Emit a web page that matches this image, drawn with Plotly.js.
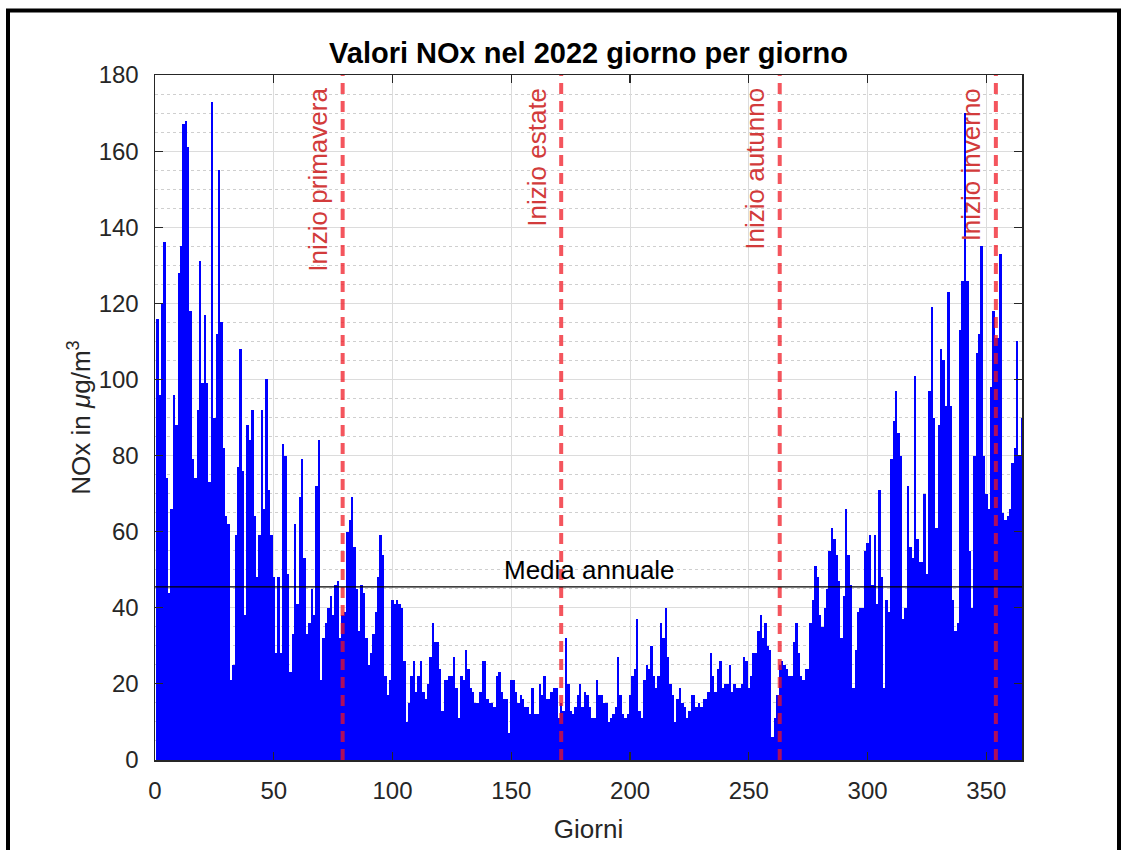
<!DOCTYPE html>
<html>
<head>
<meta charset="utf-8">
<script src="https://cdn.plot.ly/plotly-3.0.1.min.js"></script>
<style>
  html, body { margin: 0; padding: 0; background: #ffffff; }
  #chart { width: 1126px; height: 850px; }
</style>
</head>
<body>
<div id="chart"></div>
<script>
// Valori giornalieri NOx (µg/m³), mese per mese
const gen = [116,96,120,136,74,44,66,96,88,128,135,167,168,161,118,79,74,92,131,99,117,99,73,173,90,112,155,115,82,64,62];
const feb = [21,25,59,77,108,76,38,88,84,92,64,48,59,92,66,100,71,59,48,28,48,28,83,80,49,23,33,62];
const mar = [41,69,79,53,33,36,45,38,72,84,21,32,36,40,43,38,46,47,32,38,39,60,63,69,56,45,34,46,44,32,25];
const apr = [28,33,39,48,59,54,22,17,21,42,41,42,41,40,26,10,15,22,26,18,22,26,18,16,20,27,36,31,31,24];
const mag = [13,21,21,22,22,27,19,11,22,21,29,24,19,18,15,15,18,26,26,16,15,15,14,22,23,18,16,16,7,21,21];
const giu = [18,15,17,16,14,14,12,19,12,12,20,17,22,16,16,18,19,19,11,15,13,32,20,13,12,14,17,20,14,18];
const lug = [17,14,11,11,21,17,17,15,15,10,11,12,14,27,17,12,11,12,17,22,24,37,13,11,21,25,24,30,22,19,22];
const ago = [36,32,40,27,20,17,10,16,19,15,14,11,13,17,17,14,15,14,16,16,18,28,22,18,24,26,19,20,20,25,18];
const set = [20,19,19,20,27,26,19,22,28,28,34,38,32,36,30,29,6,11,17,25,26,25,24,22,22,31,36,28,22,21];
const ott = [24,24,36,42,51,48,38,35,40,45,55,61,58,54,47,32,43,66,54,46,19,29,39,40,40,55,57,59,46,59,41];
const nov = [71,48,19,42,39,79,89,97,86,80,37,40,72,56,53,101,58,52,52,70,49,97,119,90,61,88,108,105,93,123];
const dic = [93,42,34,36,113,126,170,126,55,40,80,107,112,135,80,70,66,98,118,111,111,133,65,63,64,66,78,82,110,80,90];

const stagioni = ['Inizio primavera', 'Inizio estate', 'Inizio autunno', 'Inizio inverno'];
const giorniStagioni = [79, 171, 263, 354];
const mediaAnnuale = 45.5;
const xTicks = [0, 50, 100, 150, 200, 250, 300, 350];
const yTicks = [0, 20, 40, 60, 80, 100, 120, 140, 160, 180];

const valori = [].concat(gen, feb, mar, apr, mag, giu, lug, ago, set, ott, nov, dic);
const giorni = valori.map((_, i) => i + 1);

const FONT = 'Liberation Sans, Arial, Helvetica, sans-serif';
const AXC = '#262626';
const RED_LINE = 'rgba(240,20,30,0.72)';
const RED_TEXT = '#d23b3b';

const trace = {
  type: 'bar',
  x: giorni,
  y: valori,
  width: 1,
  marker: { color: '#0000ff', line: { width: 0 } },
  hoverinfo: 'x+y'
};

const shapes = [];
const annotations = [];

giorniStagioni.forEach((g, i) => {
  shapes.push({
    type: 'line', xref: 'x', yref: 'paper',
    x0: g, x1: g, y0: 0, y1: 1,
    line: { color: RED_LINE, width: 4, dash: '11px,7px' },
    layer: 'above'
  });
  annotations.push({
    xref: 'x', yref: 'paper', x: g, y: 1,
    xanchor: 'right', yanchor: 'top',
    xshift: -8, yshift: -11,
    text: stagioni[i], textangle: -90, showarrow: false,
    font: { family: FONT, size: 26, color: RED_TEXT }
  });
});

shapes.push({
  type: 'line', xref: 'paper', yref: 'y',
  x0: 0, x1: 1, y0: mediaAnnuale, y1: mediaAnnuale,
  line: { color: '#000000', width: 1.3 }, layer: 'above'
});
annotations.push({
  xref: 'x', yref: 'y', x: 183, y: mediaAnnuale,
  xanchor: 'center', yanchor: 'bottom', yshift: 0,
  text: 'Media annuale', showarrow: false,
  font: { family: FONT, size: 26, color: '#000000' }
});

// cornice esterna della figura
shapes.push({
  type: 'rect', xref: 'paper', yref: 'paper',
  x0: (8 - 155) / 867, x1: (1119 - 155) / 867,
  y0: (760 - 880) / 685, y1: (760 - 10.5) / 685,
  line: { color: '#000000', width: 4 }, fillcolor: 'rgba(0,0,0,0)',
  layer: 'above'
});

const layout = {
  width: 1126, height: 850,
  margin: { l: 155, r: 104, t: 75, b: 90, pad: 0 },
  paper_bgcolor: '#ffffff', plot_bgcolor: '#ffffff',
  font: { family: FONT, color: AXC },
  bargap: 0,
  showlegend: false,
  title: {
    text: '<b>Valori NOx nel 2022 giorno per giorno</b>',
    font: { family: FONT, size: 29, color: '#000000' },
    x: 0.5, xref: 'paper', xanchor: 'center',
    y: 1 - 53 / 850, yref: 'container', yanchor: 'middle'
  },
  xaxis: {
    range: [0, 365], tickvals: xTicks, ticktext: xTicks.map(String),
    ticks: 'inside', ticklen: 8, tickwidth: 1.2, tickcolor: AXC,
    showline: true, linecolor: AXC, linewidth: 1.5, mirror: 'ticks',
    showgrid: true, gridcolor: '#dcdcdc', gridwidth: 1,
    zeroline: false, automargin: false,
    tickfont: { family: FONT, size: 24, color: AXC },
    ticklabelstandoff: 9,
    title: { text: 'Giorni', font: { family: FONT, size: 26, color: AXC }, standoff: 16 }
  },
  yaxis: {
    range: [0, 180], tickvals: yTicks, ticktext: yTicks.map(String),
    ticks: 'inside', ticklen: 8, tickwidth: 1.2, tickcolor: AXC,
    showline: true, linecolor: AXC, linewidth: 1.5, mirror: 'ticks',
    showgrid: true, gridcolor: '#dcdcdc', gridwidth: 1,
    minor: { dtick: 5, tick0: 0, showgrid: true, gridcolor: '#cfcfcf', griddash: 'dot', gridwidth: 1, ticks: '' },
    zeroline: false, automargin: false,
    tickfont: { family: FONT, size: 24, color: AXC },
    ticklabelstandoff: 10,
    title: { text: 'NOx in <i>μ</i>g/m<sup>3</sup>', font: { family: FONT, size: 26, color: AXC }, standoff: 0 }
  },
  shapes: shapes,
  annotations: annotations
};

Plotly.newPlot('chart', [trace], layout, { staticPlot: true, displayModeBar: false });
</script>
</body>
</html>
